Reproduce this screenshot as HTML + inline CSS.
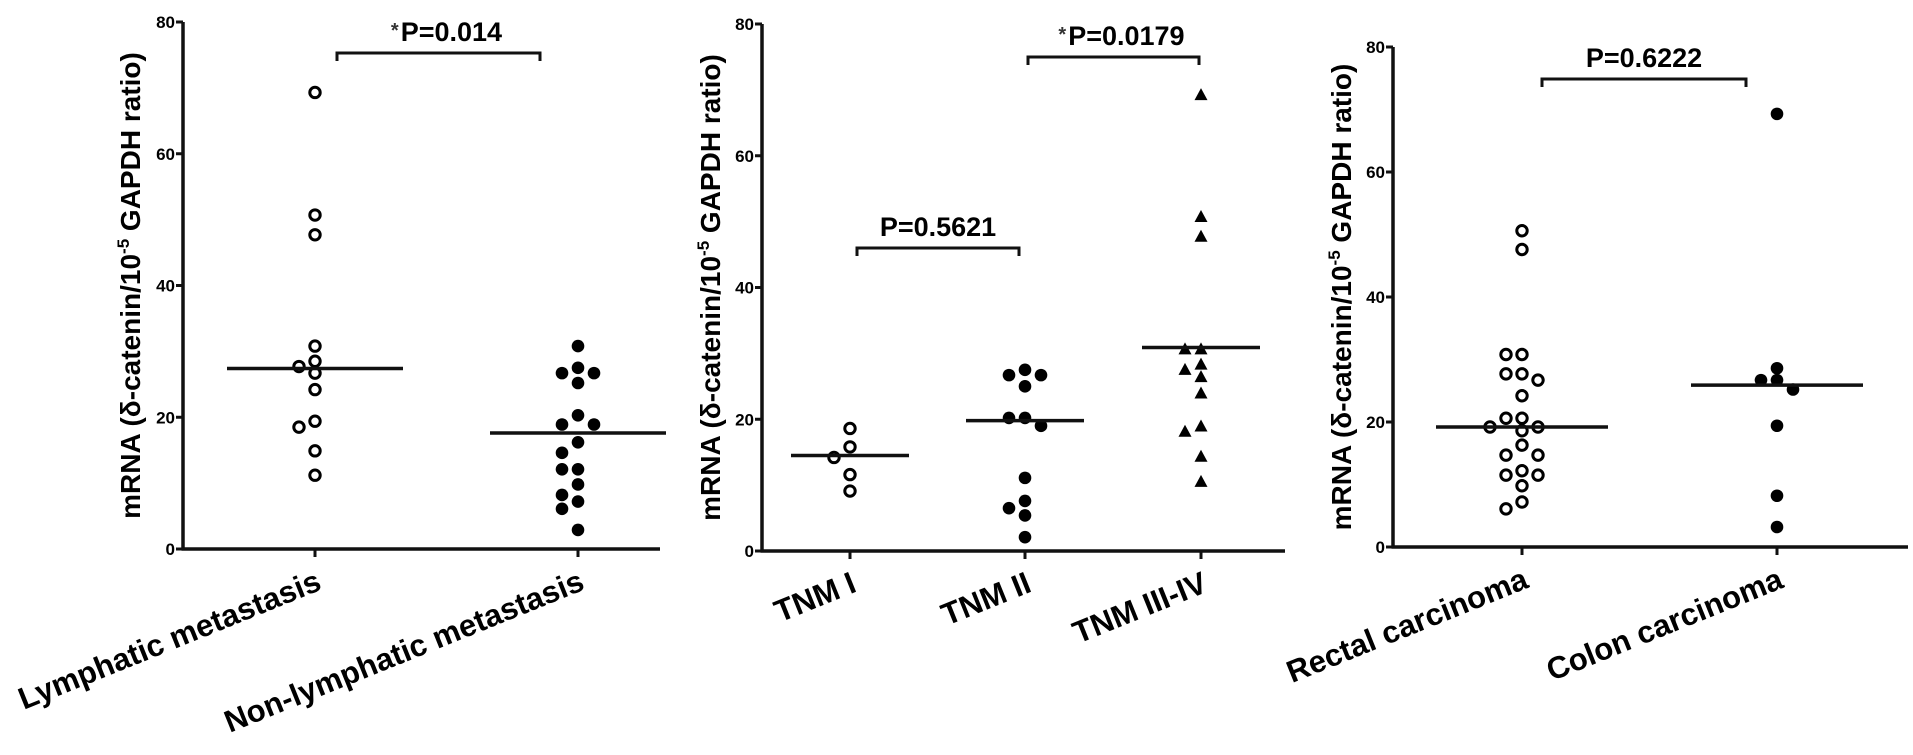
<!DOCTYPE html>
<html><head><meta charset="utf-8">
<style>
html,body{margin:0;padding:0;background:#fff;}
svg{display:block;}
text{font-family:"Liberation Sans",Arial,sans-serif;font-weight:bold;fill:#000;}
</style></head>
<body>
<svg id="chart" width="1913" height="755" viewBox="0 0 1913 755" xmlns="http://www.w3.org/2000/svg">
</svg>
<script>
// ---- data ----
const p1Categories = ["Lymphatic metastasis", "Non-lymphatic metastasis"];
const p1Lymphatic = [69.3, 50.7, 47.7, 30.8, 28.5, 27.7, 26.7, 24.2, 19.4, 18.5, 14.9, 11.2];
const p1NonLymphatic = [30.8, 27.5, 26.7, 26.7, 25.2, 20.3, 18.9, 18.9, 16.2, 14.6, 12.1, 12.1, 9.8, 8.2, 7.2, 6.1, 2.9];
const p1Medians = [27.4, 17.6];
const p1PValue = "P=0.014";

const p2Categories = ["TNM I", "TNM II", "TNM III-IV"];
const p2TnmI = [18.6, 15.8, 14.2, 11.6, 9.1];
const p2TnmII = [27.5, 26.7, 26.7, 25.0, 20.2, 20.2, 19.0, 11.1, 7.6, 6.5, 5.4, 2.1];
const p2TnmIII = [69.2, 50.7, 47.7, 30.6, 30.6, 28.3, 27.5, 26.4, 23.9, 18.9, 18.1, 14.3, 10.5];
const p2Medians = [14.5, 19.8, 30.9];
const p2PValues = ["P=0.5621", "P=0.0179"];

const p3Categories = ["Rectal carcinoma", "Colon carcinoma"];
const p3Rectal = [50.6, 47.6, 30.8, 30.8, 27.7, 27.7, 26.7, 24.2, 20.6, 20.6, 19.2, 19.2, 18.6, 16.3, 14.7, 14.7, 12.2, 11.5, 11.5, 9.8, 7.2, 6.1];
const p3Colon = [69.3, 28.6, 26.7, 26.7, 25.2, 19.4, 8.2, 3.2];
const p3Medians = [19.2, 25.9];
const p3PValue = "P=0.6222";

const yTicks = [0, 20, 40, 60, 80];

const NS = "http://www.w3.org/2000/svg";
const svg = document.getElementById("chart");
function mk(tag, attrs, parent) {
  const e = document.createElementNS(NS, tag);
  for (const k in attrs) e.setAttribute(k, attrs[k]);
  (parent || svg).appendChild(e);
  return e;
}

function makePanel(cfg) {
  const g = mk("g", {});
  
  
  const yScale = v => cfg.y0 - (v / 80) * (cfg.y0 - cfg.y80);
  // y axis
  const ya = mk("line", {x1: cfg.ax, y1: cfg.y80, x2: cfg.ax, y2: cfg.y0 + 1.5, stroke: "#111", "stroke-width": 3.5}, g);
  
  
  yTicks.forEach(t => {
    const y = yScale(t);
    const tk = mk("line", {x1: cfg.ax - 7, y1: y, x2: cfg.ax, y2: y, stroke: "#111", "stroke-width": 3}, g);
    
    
    const tl = mk("text", {x: cfg.ax - 8, y: y + 6, "text-anchor": "end", "font-size": 17}, g);
    
    
    tl.textContent = t;
  });
  // x axis
  const xa = mk("line", {x1: cfg.ax - 1.5, y1: cfg.y0, x2: cfg.xEnd, y2: cfg.y0, stroke: "#111", "stroke-width": 3.5}, g);
  
  
  // y title
  const tx = cfg.titleX, ty = (cfg.y80 + cfg.y0) / 2 + cfg.titleDy;
  const yt = mk("text", {x: tx, y: ty, "text-anchor": "middle", "font-size": 28, transform: `rotate(-90 ${tx} ${ty})`}, g);
  
  
  yt.appendChild(document.createTextNode("mRNA (δ-catenin/10"));
  const sup = mk("tspan", {"font-size": 17, dy: -11}, yt);
  sup.textContent = "-5";
  const rest = mk("tspan", {dy: 11}, yt);
  rest.textContent = " GAPDH ratio)";

  cfg.groups.forEach((grp, gi) => {
    const cx = cfg.centers[gi];
    const tk = mk("line", {x1: cx, y1: cfg.y0, x2: cx, y2: cfg.y0 + 8, stroke: "#111", "stroke-width": 3}, g);
    
    
    // category label
    const lx = cx + 8, ly = cfg.y0 + 40;
    const lab = mk("text", {x: lx, y: ly, "text-anchor": "end", "font-size": 31, transform: `rotate(-22 ${lx} ${ly})`}, g);
    
    
    lab.textContent = cfg.categories[gi];
    // beeswarm placement
    const placed = [];
    const order = [0, -1, 1, -2, 2, -3, 3];
    const vals = grp.values.slice().sort((a, b) => b - a);
    vals.forEach(v => {
      const y = yScale(v);
      let slot = 0;
      for (const s of order) {
        if (!placed.some(p => p.s === s && Math.abs(p.y - y) < 11)) { slot = s; break; }
      }
      placed.push({s: slot, y: y});
      const x = cx + slot * 16;
      let m;
      if (grp.marker === "open") {
        m = mk("circle", {cx: x, cy: y, r: 5.2, fill: "#fff", stroke: "#000", "stroke-width": 3}, g);
      } else if (grp.marker === "filled") {
        m = mk("circle", {cx: x, cy: y, r: 6.3, fill: "#000"}, g);
      } else {
        m = mk("polygon", {points: `${x},${y - 7} ${x - 6.5},${y + 5} ${x + 6.5},${y + 5}`, fill: "#000"}, g);
      }
      
      
    });
    // median
    const my = yScale(cfg.medians[gi]);
    const med = mk("line", {x1: cx - cfg.medHalf, y1: my, x2: cx + cfg.medHalf, y2: my, stroke: "#111", "stroke-width": 3.5}, g);
    
    
  });

  cfg.brackets.forEach(b => {
    const br = mk("path", {d: `M${b.x1},${b.y + 8} L${b.x1},${b.y} L${b.x2},${b.y} L${b.x2},${b.y + 8}`, fill: "none", stroke: "#111", "stroke-width": 3}, g);
    
    
    const pt = mk("text", {x: (b.x1 + b.x2) / 2 + (b.star ? 8 : 0), y: b.y - 12, "text-anchor": "middle", "font-size": 27}, g);
    
    
    if (b.star) {
      const st = mk("tspan", {"font-size": 20, dy: -4, fill: "#333"}, pt);
      st.textContent = "*";
      const rt = mk("tspan", {dy: 4, dx: 2}, pt);
      rt.textContent = b.label;
    } else {
      pt.textContent = b.label;
    }
  });
}

makePanel({
  name: "panel-lymphatic", ax: 183, y80: 22, y0: 549, xEnd: 660, titleX: 140, titleDy: 0, medHalf: 88,
  categories: p1Categories, centers: [315, 578], medians: p1Medians,
  groups: [{values: p1Lymphatic, marker: "open"}, {values: p1NonLymphatic, marker: "filled"}],
  brackets: [{x1: 337, x2: 540, y: 53, label: p1PValue, star: true}]
});
makePanel({
  name: "panel-tnm", ax: 762, y80: 24, y0: 551, xEnd: 1285, titleX: 720, titleDy: 0, medHalf: 59,
  categories: p2Categories, centers: [850, 1025, 1201], medians: p2Medians,
  groups: [{values: p2TnmI, marker: "open"}, {values: p2TnmII, marker: "filled"}, {values: p2TnmIII, marker: "triangle"}],
  brackets: [{x1: 857, x2: 1019, y: 248, label: p2PValues[0], star: false},
             {x1: 1028, x2: 1199, y: 57, label: p2PValues[1], star: true}]
});
makePanel({
  name: "panel-location", ax: 1393, y80: 47, y0: 547, xEnd: 1908, titleX: 1351, titleDy: 0, medHalf: 86,
  categories: p3Categories, centers: [1522, 1777], medians: p3Medians,
  groups: [{values: p3Rectal, marker: "open"}, {values: p3Colon, marker: "filled"}],
  brackets: [{x1: 1542, x2: 1746, y: 79, label: p3PValue, star: false}]
});
</script>
</body></html>
